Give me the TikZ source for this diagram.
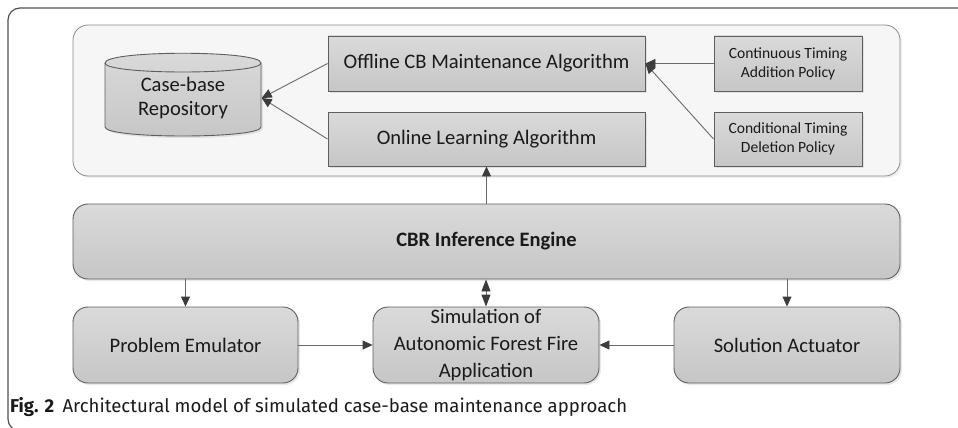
\documentclass[tikz,border=0pt]{standalone}
\usepackage{fontspec}
\setmainfont{Carlito}
\newfontfamily\capfont{Fira Sans}
\usetikzlibrary{arrows.meta,shadows}
\definecolor{framec}{HTML}{505050}
\definecolor{panelline}{HTML}{8A8A8A}
\definecolor{panelfill}{HTML}{F6F6F6}
\definecolor{boxline}{HTML}{5E5E5E}
\definecolor{filltop}{HTML}{DADADA}
\definecolor{fillbot}{HTML}{C6C6C6}
\definecolor{linec}{HTML}{6A6A6A}
\definecolor{arrowc}{HTML}{3C3C3C}
\definecolor{txt}{HTML}{1A1A1A}
\begin{document}
\begin{tikzpicture}[x=1pt,y=-1pt,
  shad/.style={drop shadow={opacity=0.18,shadow xshift=2pt,shadow yshift=-2pt}},
  sqbox/.style={draw=boxline,line width=0.9pt,top color=filltop,bottom color=fillbot,
     inner sep=0pt,align=center,text=txt,shad,font=\fontsize{20.6}{24.5}\selectfont},
  polbox/.style={sqbox,font=\fontsize{15.6}{19}\selectfont},
  rbox/.style={sqbox,rounded corners=15pt},
  conn/.style={draw=linec,line width=0.9pt,-{Triangle[length=10pt,width=9pt,color=arrowc]}},
  dconn/.style={draw=linec,line width=0.9pt,{Triangle[length=12pt,width=9pt,color=arrowc]}-{Triangle[length=12pt,width=9pt,color=arrowc]}}
]
\useasboundingbox (0,0) rectangle (958,428);
% outer frame
\begin{scope}
\clip (0,0) rectangle (958,428);
\draw[framec,line width=1.2pt,rounded corners=12pt] (990,8) -- (8,8) -- (8,431) -- (990,431);
\end{scope}
% panel
\node[draw=panelline,fill=panelfill,line width=0.8pt,rounded corners=15pt,
      minimum width=827pt,minimum height=151pt,inner sep=0pt,
      drop shadow={opacity=0.12,shadow xshift=2pt,shadow yshift=-2pt}] (panel) at (486.5,100.5) {};
% cylinder
\path[draw=boxline,line width=0.9pt,top color=filltop,bottom color=fillbot,shad]
  (105,63) -- (105,127) .. controls (105,139) and (261,139) .. (261,127)
  -- (261,63) .. controls (261,50) and (105,50) .. (105,63) -- cycle;
\draw[boxline,line width=0.9pt] (105,63) .. controls (105,75) and (261,75) .. (261,63);
\node[inner sep=0pt,minimum width=157pt,minimum height=84pt,align=center,text=txt,
      font=\fontsize{20.6}{24}\selectfont] (cyl) at (183,98) {Case-base\\Repository};
% top boxes
\node[sqbox,minimum width=317pt,minimum height=55pt] (off) at (486.5,63.5) {Offline CB Maintenance Algorithm};
\node[sqbox,minimum width=317pt,minimum height=54pt] (onl) at (486.5,139) {Online Learning Algorithm};
\node[polbox,minimum width=148pt,minimum height=55pt] (pol1) at (788,63.5) {Continuous Timing\\Addition Policy};
\node[polbox,minimum width=148pt,minimum height=54pt] (pol2) at (788,139) {Conditional Timing\\Deletion Policy};
% engine
\node[rbox,minimum width=827pt,minimum height=75pt,font=\bfseries\fontsize{20.5}{24}\selectfont] (eng) at (486.5,241.5) {CBR Inference Engine};
% bottom
\node[rbox,minimum width=225pt,minimum height=76pt] (prob) at (185.5,345) {Problem Emulator};
\node[rbox,minimum width=226pt,minimum height=76pt,font=\fontsize{20.6}{27}\selectfont] (sim) at (486,345) {Simulation of\\Autonomic Forest Fire\\Application};
\node[rbox,minimum width=226pt,minimum height=76pt] (sol) at (787,345) {Solution Actuator};
% connectors
\draw[conn] (off.west) -- (cyl.east);
\draw[conn] (onl.west) -- (cyl.east);
\draw[conn] (pol1.west) -- (off.east);
\draw[conn] (pol2.west) -- (off.east);
\draw[conn] (eng.north) -- (onl.south);
\draw[conn] (eng.south -| prob.north) -- (prob.north);
\draw[conn] (eng.south -| sol.north) -- (sol.north);
\draw[dconn] (eng.south -| sim.north) -- (sim.north);
\draw[conn] (prob.east) -- (sim.west);
\draw[conn] (sol.west) -- (sim.east);
% caption
\node[anchor=base west,inner sep=0pt,text=txt,font=\capfont\fontsize{18.6}{22}\selectfont] (cap) at (10,412.5)
  {\textbf{Fig. 2}\hspace{0.45em}Architectural model of simulated case-base maintenance approach};
\end{tikzpicture}
\end{document}
